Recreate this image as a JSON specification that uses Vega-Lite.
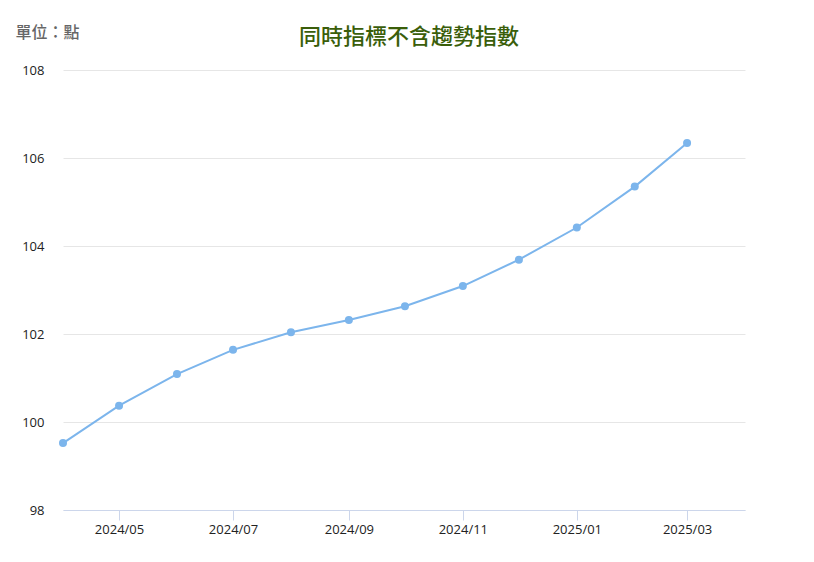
{
  "$schema": "https://vega.github.io/schema/vega-lite/v6.json",
  "width": 682,
  "height": 440,
  "autosize": {"type": "none"},
  "padding": {"left": 63, "top": 70, "right": 69, "bottom": 52},
  "background": "white",
  "title": {
    "text": "同時指標不含趨勢指數",
    "font": "Noto Sans CJK TC",
    "fontSize": 22,
    "fontWeight": 500,
    "color": "#3a5e0a",
    "anchor": "middle",
    "frame": "group",
    "dx": 5,
    "dy": 29
  },
  "data": {
    "values": [
      {"month": "2024/04/01", "value": 99.52},
      {"month": "2024/05/01", "value": 100.37},
      {"month": "2024/06/01", "value": 101.09},
      {"month": "2024/07/01", "value": 101.64},
      {"month": "2024/08/01", "value": 102.04},
      {"month": "2024/09/01", "value": 102.32},
      {"month": "2024/10/01", "value": 102.63},
      {"month": "2024/11/01", "value": 103.09},
      {"month": "2024/12/01", "value": 103.69},
      {"month": "2025/01/01", "value": 104.42},
      {"month": "2025/02/01", "value": 105.35},
      {"month": "2025/03/01", "value": 106.34}
    ]
  },
  "mark": {
    "type": "line",
    "color": "#7cb5ec",
    "strokeWidth": 2,
    "point": {"filled": true, "size": 64, "color": "#7cb5ec", "opacity": 1}
  },
  "encoding": {
    "x": {
      "field": "month",
      "type": "temporal",
      "scale": {"domain": [{"year": 2024, "month": 4, "date": 1}, {"year": 2025, "month": 4, "date": 1}]},
      "axis": {
        "title": null,
        "values": [
          {"year": 2024, "month": 5, "date": 1},
          {"year": 2024, "month": 7, "date": 1},
          {"year": 2024, "month": 9, "date": 1},
          {"year": 2024, "month": 11, "date": 1},
          {"year": 2025, "month": 1, "date": 1},
          {"year": 2025, "month": 3, "date": 1}
        ],
        "format": "%Y/%m",
        "grid": false,
        "domainColor": "#ccd6eb",
        "tickColor": "#ccd6eb",
        "tickSize": 10,
        "labelPadding": 3,
        "labelFont": "Open Sans",
        "labelFontSize": 13,
        "labelColor": "#222222"
      }
    },
    "y": {
      "field": "value",
      "type": "quantitative",
      "scale": {"domain": [98, 108], "nice": false, "zero": false},
      "axis": {
        "values": [98, 100, 102, 104, 106, 108],
        "title": "單位：點",
        "titleAngle": 0,
        "titleAlign": "left",
        "titleBaseline": "alphabetic",
        "titleX": -48,
        "titleY": -33,
        "titleFont": "Noto Sans CJK TC",
        "titleFontSize": 16,
        "titleFontWeight": 500,
        "titleColor": "#666666",
        "domain": false,
        "ticks": false,
        "gridColor": "#e6e6e6",
        "labelPadding": 19,
        "labelFont": "Open Sans",
        "labelFontSize": 13,
        "labelColor": "#222222"
      }
    }
  },
  "config": {"view": {"stroke": null}}
}
